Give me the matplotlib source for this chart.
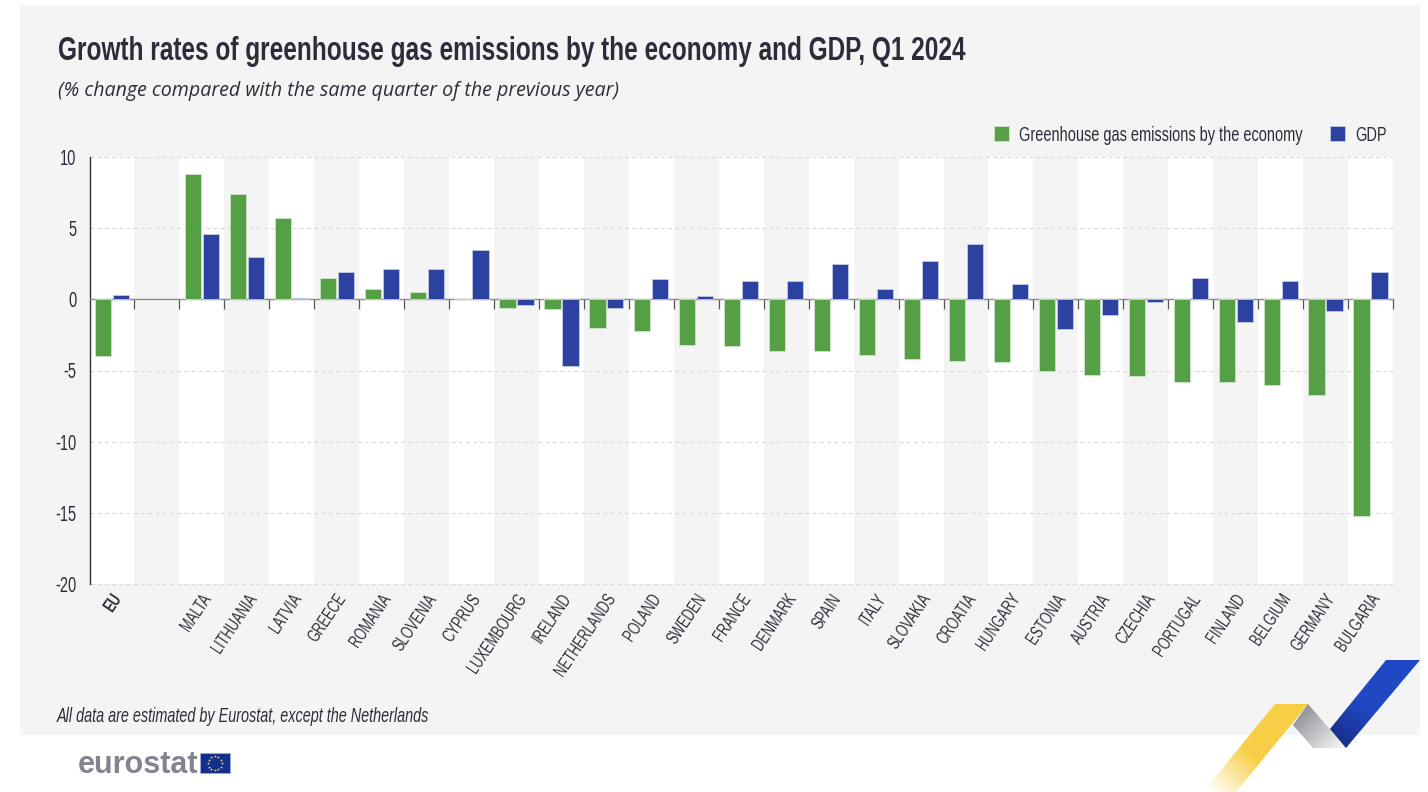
import numpy as np
import matplotlib
matplotlib.use('Agg')
import matplotlib.pyplot as plt
from matplotlib.patches import Polygon, Rectangle
from matplotlib.colors import LinearSegmentedColormap
from matplotlib import font_manager as fm
from fontTools.ttLib import TTFont

# %% Data

countries = ['EU', '', 'MALTA', 'LITHUANIA', 'LATVIA', 'GREECE', 'ROMANIA', 'SLOVENIA',
             'CYPRUS', 'LUXEMBOURG', 'IRELAND', 'NETHERLANDS', 'POLAND', 'SWEDEN',
             'FRANCE', 'DENMARK', 'SPAIN', 'ITALY', 'SLOVAKIA', 'CROATIA', 'HUNGARY',
             'ESTONIA', 'AUSTRIA', 'CZECHIA', 'PORTUGAL', 'FINLAND', 'BELGIUM',
             'GERMANY', 'BULGARIA']

ghg = [-4.0, np.nan, 8.8, 7.4, 5.7, 1.5, 0.7, 0.5, 0.0, -0.6, -0.7, -2.0, -2.2, -3.2,
       -3.3, -3.6, -3.6, -3.9, -4.2, -4.3, -4.4, -5.0, -5.3, -5.4, -5.8, -5.8, -6.0,
       -6.7, -15.2]

gdp = [0.3, np.nan, 4.6, 3.0, 0.1, 1.9, 2.1, 2.1, 3.5, -0.4, -4.7, -0.6, 1.4, 0.2,
       1.3, 1.3, 2.5, 0.7, 2.7, 3.9, 1.1, -2.1, -1.1, -0.2, 1.5, -1.6, 1.3, -0.8, 1.9]

y_ticks = [10, 5, 0, -5, -10, -15, -20]

W, H = 1428, 792
GREEN = '#55a045'
BLUE = '#2c41a0'
PANEL = '#f4f4f4'
INK = '#2b2d3a'


# %% Condensed fonts: no narrow family is installed, so squeeze Liberation Sans

def make_condensed(family, weight, style, factor, tag):
    src = fm.findfont(fm.FontProperties(family='Liberation Sans', weight=weight, style=style))
    font = TTFont(src)
    glyf = font['glyf']
    hmtx = font['hmtx']
    for name in font.getGlyphOrder():
        g = glyf[name]
        if g.isComposite():
            for c in g.components:
                c.x = round(c.x * factor)
        elif g.numberOfContours > 0:
            g.coordinates.scale((factor, 1))
            g.coordinates.toInt()
        g.removeHinting()
        adv, lsb = hmtx[name]
        hmtx[name] = (round(adv * factor), round(lsb * factor))
    if 'kern' in font:
        for kt in font['kern'].kernTables:
            kt.kernTable = {k: round(v * factor) for k, v in kt.kernTable.items()}
    filename = family.replace(' ', '') + '-' + tag
    for rec in font['name'].names:
        if rec.nameID in (1, 16):
            rec.string = family
        elif rec.nameID == 4:
            rec.string = family + ' ' + tag
        elif rec.nameID == 6:
            rec.string = filename
    font.save(filename + '.ttf')
    fm.fontManager.addfont(filename + '.ttf')


make_condensed('Cond Sans', 'normal', 'normal', 0.73, 'Regular')
make_condensed('Cond Sans', 'bold', 'normal', 0.73, 'Bold')
make_condensed('Cond Sans', 'normal', 'italic', 0.73, 'Italic')
make_condensed('Narrow Sans', 'normal', 'normal', 0.68, 'Regular')
make_condensed('Narrow Sans', 'bold', 'normal', 0.68, 'Bold')

plt.rcParams['font.family'] = ['Cond Sans', 'Liberation Sans', 'DejaVu Sans']

fig = plt.figure(figsize=(W / 100, H / 100), dpi=100, facecolor='white')

# %% Background layer in pixel coordinates

bg = fig.add_axes([0, 0, 1, 1], zorder=0)
bg.set_xlim(0, W)
bg.set_ylim(H, 0)
bg.axis('off')
bg.add_patch(Rectangle((20, 5), 1400, 730, fc=PANEL, ec='none'))


def ribbon(points, colors, start, end):
    # gradient filled polygon, start and end given as pixel points
    xs = [p[0] for p in points]
    ys = [p[1] for p in points]
    x0, x1, y0, y1 = min(xs), max(xs), min(ys), max(ys)
    gx, gy = np.meshgrid(np.linspace(x0, x1, 200), np.linspace(y0, y1, 200))
    dx = end[0] - start[0]
    dy = end[1] - start[1]
    t = ((gx - start[0]) * dx + (gy - start[1]) * dy) / (dx * dx + dy * dy)
    cmap = LinearSegmentedColormap.from_list('r', colors)
    im = bg.imshow(np.clip(t, 0, 1), extent=(x0, x1, y1, y0), cmap=cmap, vmin=0, vmax=1,
                   aspect='auto', zorder=2)
    poly = Polygon(points, closed=True, fc='none', ec='none', transform=bg.transData)
    bg.add_patch(poly)
    im.set_clip_path(poly)


ribbon([(1275, 704), (1308, 704), (1236, 792), (1203, 792)],
       ['#f7cf46', '#f7cf46', '#ffffff'], (1290, 715), (1215, 795))
ribbon([(1308, 704), (1346, 748), (1313, 748), (1293, 725)],
       ['#8f9097', '#eef0f0'], (1298, 712), (1335, 750))
ribbon([(1386, 660), (1420, 660), (1346, 748), (1330, 729)],
       ['#2148c4', '#2148c4', '#172c86'], (1395, 670), (1338, 745))
bg.set_xlim(0, W)
bg.set_ylim(H, 0)

# logo
bg.text(78, 773, 'eurostat', family='Liberation Sans', weight='bold', fontsize=22,
        color='#82858f', va='baseline', ha='left')
bg.add_patch(Rectangle((200, 753), 29.5, 20, fc='#14308f', ec='#9db0d8', lw=0.5))
star_angles = np.deg2rad(np.arange(0, 360, 30))
bg.scatter(214.7 + 7 * np.cos(star_angles), 763 + 7 * np.sin(star_angles), s=5,
           marker='*', color='#f5d33c', linewidths=0, zorder=3)

# texts
bg.text(58, 60, 'Growth rates of greenhouse gas emissions by the economy and GDP, Q1 2024',
        fontsize=24, weight='bold', color=INK, va='baseline')
bg.text(58, 96, '(% change compared with the same quarter of the previous year)',
        family=['Open Sans', 'DejaVu Sans'], style='italic', fontsize=14.1, color=INK, va='baseline')
bg.text(57, 722, 'All data are estimated by Eurostat, except the Netherlands',
        fontsize=14.2, style='italic', color=INK, va='baseline')

# %% Chart

x = np.arange(len(countries))
bar_w = 0.36

ax = fig.add_axes([89.5 / W, 1 - 584 / H, (1393 - 89.5) / W, (584 - 157) / H], zorder=1)
ax.set_facecolor('white')

for i in x[1::2]:
    ax.axvspan(i - 0.5, i + 0.5, color=PANEL, lw=0, zorder=0)

b1 = ax.bar(x - 0.2, ghg, bar_w, color=GREEN, edgecolor='#cfe3ca', linewidth=0.6, zorder=3,
            label='Greenhouse gas emissions by the economy')
b2 = ax.bar(x + 0.2, gdp, bar_w, color=BLUE, edgecolor='#c3cbe6', linewidth=0.6, zorder=3,
            label='GDP')

ax.set_xlim(-0.5, len(countries) - 0.5)
ax.set_ylim(-20, 10)
ax.set_yticks(y_ticks)
ax.set_yticklabels([str(v) for v in y_ticks], fontsize=15.5, color=INK, family='Narrow Sans')
ax.tick_params(axis='y', length=0, pad=9.5)
ax.yaxis.grid(True, color='#d9d9d9', linestyle=(0, (3.5, 3)), linewidth=0.8, zorder=1)
ax.set_axisbelow(True)
for line in ax.get_ygridlines():
    line.set_clip_on(False)

for s in ['top', 'right']:
    ax.spines[s].set_visible(False)
ax.spines['left'].set_color('#333333')
ax.spines['left'].set_linewidth(1)
ax.spines['bottom'].set_position(('data', 0))
ax.spines['bottom'].set_color('#8c8c8c')
ax.spines['bottom'].set_linewidth(1.0)
ax.spines['bottom'].set_zorder(2.5)

# ticks between the categories on the zero line
ax.set_xticks(x[1:] - 0.5)
ax.set_xticks([len(countries) - 0.5], minor=True)
ax.tick_params(axis='x', which='both', length=7.2, width=0.9, color='#555555', labelbottom=False)

# country names at the bottom of the plot
sec = ax.secondary_xaxis('bottom')
sec.set_xticks(x - 0.01, countries, rotation=56, ha='right', va='top', rotation_mode='anchor',
               fontsize=13.7, color=INK, family='Narrow Sans')
sec.tick_params(axis='x', length=0, pad=5)
sec.spines['bottom'].set_visible(False)
sec.get_xticklabels()[0].set_fontweight('bold')

leg = ax.legend(handles=[b1, b2], ncol=2, frameon=False, loc='lower right',
                bbox_to_anchor=(0.9952, 1.028), borderaxespad=0, borderpad=0,
                prop={'family': 'Narrow Sans', 'size': 15.4},
                handlelength=0.72, handleheight=0.72, handletextpad=0.45, columnspacing=1.3,
                labelcolor=INK)

fig.savefig('out.png', dpi=100, facecolor='white')
